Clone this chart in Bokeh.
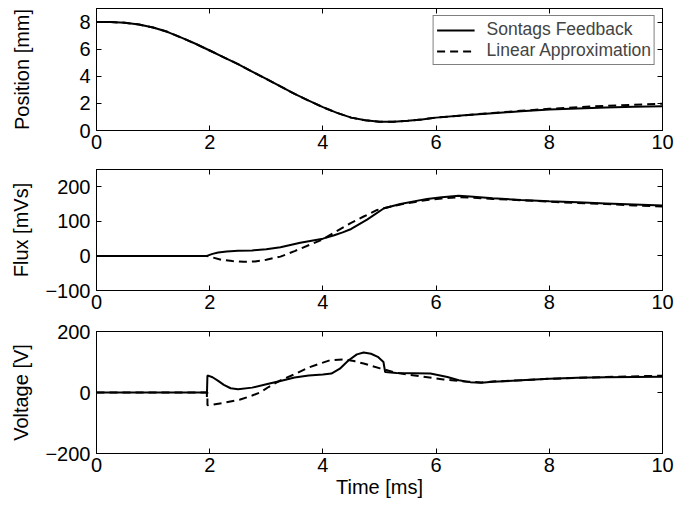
from bokeh.plotting import figure
from bokeh.layouts import column
from bokeh.models import LinearAxis, FixedTicker, Range1d, Legend, LegendItem
from bokeh.embed import file_html
from bokeh.resources import INLINE

# ---------------- data ----------------
pos_sontag_t = [0, 0.25, 0.5, 0.75, 1.0, 1.25, 1.5, 1.75, 2.0, 2.25, 2.5, 2.75, 3.0, 3.25,
                3.5, 3.75, 4.0, 4.25, 4.5, 4.75, 5.0, 5.25, 5.5, 5.75, 6.0, 6.5, 7.0, 7.5,
                8.0, 8.5, 9.0, 9.5, 10.0]
pos_sontag_y = [8.0, 8.0, 7.95, 7.82, 7.6, 7.28, 6.85, 6.4, 5.9, 5.4, 4.9, 4.35, 3.8, 3.25,
                2.7, 2.2, 1.72, 1.3, 0.95, 0.75, 0.65, 0.65, 0.72, 0.82, 0.95, 1.12, 1.27, 1.42,
                1.55, 1.63, 1.7, 1.75, 1.78]
pos_linear_t = pos_sontag_t
pos_linear_y = [8.0, 8.0, 7.95, 7.82, 7.6, 7.28, 6.85, 6.4, 5.9, 5.4, 4.9, 4.35, 3.8, 3.25,
                2.7, 2.2, 1.72, 1.3, 0.95, 0.75, 0.65, 0.65, 0.72, 0.82, 0.95, 1.12, 1.3, 1.45,
                1.6, 1.72, 1.82, 1.9, 1.98]

flux_sontag_t = [0, 1.95, 2.05, 2.15, 2.3, 2.5, 2.75, 3.0, 3.25, 3.6, 4.0, 4.2, 4.35, 4.5, 4.78,
                 5.08, 5.37, 5.84, 6.1, 6.4, 6.6, 7.0, 7.5, 8.0, 8.5, 9.0, 9.5, 10.0]
flux_sontag_y = [0, 0, 6, 10, 13, 15, 16, 19, 25, 38, 50, 60, 68, 78, 105,
                 138, 150, 165, 170, 174, 172, 167, 162, 158, 155, 152, 149, 146]
flux_linear_t = [0, 1.95, 2.0, 2.2, 2.4, 2.6, 2.8, 3.0, 3.25, 3.5, 3.78, 4.0, 4.19, 4.49,
                 4.72, 4.96, 5.08, 5.37, 5.84, 6.1, 6.4, 6.6, 7.0, 7.5, 8.0, 8.5, 9.0, 9.5, 10.0]
flux_linear_y = [0, 0, -2, -11, -15, -17, -16, -11, -2, 14, 33, 48, 67, 95,
                 114, 133, 138, 149, 162, 166, 170, 169, 165, 161, 157, 153, 150, 146, 143]

volt_sontag_t = [0, 1.95, 1.95, 1.96, 2.05, 2.15, 2.25, 2.37, 2.5, 2.75, 3.0, 3.25, 3.5, 3.75,
                 4.0, 4.15, 4.3, 4.45, 4.6, 4.72, 4.85, 4.97, 5.07, 5.1, 5.3, 5.6, 5.9, 6.2,
                 6.4, 6.6, 6.8, 7.0, 7.5, 8.0, 8.5, 9.0, 9.5, 10.0]
volt_sontag_y = [0, 0, -15, 56, 50, 38, 25, 14, 11, 16, 27, 38, 49, 56,
                 59, 62, 78, 105, 125, 131, 127, 117, 100, 67, 64, 63, 62, 51,
                 40, 34, 32, 35, 40, 45, 48, 50, 51, 52]
volt_linear_t = [0, 1.96, 1.96, 2.25, 2.54, 2.75, 2.9, 3.04, 3.25, 3.5, 3.75, 4.0, 4.13, 4.37,
                 4.55, 4.72, 5.01, 5.31, 5.72, 6.13, 6.5, 6.8, 7.0, 7.5, 8.0, 9.0, 10.0]
volt_linear_y = [0, 0, -42, -34, -23, -10, 1, 18, 40, 60, 82, 98, 106, 108,
                 103, 95, 79, 64, 53, 43, 36, 33, 36, 40, 45, 51, 55]

x_ticks = [0, 2, 4, 6, 8, 10]
pos_ticks = [0, 2, 4, 6, 8]
flux_ticks = [-100, 0, 100, 200]
volt_ticks = [-200, 0, 200]

series_names = ["Sontags Feedback", "Linear Approximation"]

FONT = "Liberation Sans"
TICK_FS = "20px"
LABEL_FS = "20px"
DASH = "8 5"


def style_axis(ax, ticks, show_labels=True):
    ax.ticker = FixedTicker(ticks=ticks)
    ax.major_tick_in = 5
    ax.major_tick_out = 0
    ax.minor_tick_line_color = None
    ax.axis_line_color = "black"
    ax.major_tick_line_color = "black"
    ax.major_label_text_font = FONT
    ax.major_label_text_color = "black"
    ax.axis_label_text_font = FONT
    ax.axis_label_text_font_style = "normal"
    ax.axis_label_text_font_size = LABEL_FS
    ax.axis_label_text_color = "black"
    if show_labels:
        ax.major_label_text_font_size = TICK_FS
        ax.major_label_standoff = 4
    else:
        ax.major_label_text_font_size = "0px"
        ax.major_label_standoff = 0


def make_fig(height, border_top, border_bottom, yrange, yticks, ylabel, ylabel_standoff, xlabel=None):
    p = figure(width=688, height=height, output_backend="svg", toolbar_location=None,
               x_range=Range1d(0, 10), y_range=Range1d(*yrange),
               x_axis_type=None, y_axis_type=None,
               min_border_left=96, min_border_right=26,
               min_border_top=border_top, min_border_bottom=border_bottom)
    p.grid.visible = False
    p.outline_line_color = "black"
    p.outline_line_width = 1
    p.background_fill_color = "white"
    p.border_fill_color = "white"

    xb = LinearAxis()
    style_axis(xb, x_ticks)
    if xlabel:
        xb.axis_label = xlabel
        xb.axis_label_standoff = 1
    p.add_layout(xb, "below")
    xt = LinearAxis()
    style_axis(xt, x_ticks, show_labels=False)
    p.add_layout(xt, "above")

    yl = LinearAxis()
    style_axis(yl, yticks)
    yl.major_label_standoff = 6
    yl.axis_label = ylabel
    yl.axis_label_standoff = ylabel_standoff
    p.add_layout(yl, "left")
    yr = LinearAxis()
    style_axis(yr, yticks, show_labels=False)
    p.add_layout(yr, "right")
    return p


p1 = make_fig(161, 8, 31, (0, 9), pos_ticks, "Position [mm]", 43)
p2 = make_fig(157, 8, 28, (-100, 250), flux_ticks, "Flux [mVs]", 10)
p3 = make_fig(187, 13, 52, (-200, 200), volt_ticks, "Voltage [V]", 10, xlabel="Time [ms]")

r_s = p1.line(pos_sontag_t, pos_sontag_y, line_color="black", line_width=2)
r_l = p1.line(pos_linear_t, pos_linear_y, line_color="black", line_width=2, line_dash=DASH)
p2.line(flux_sontag_t, flux_sontag_y, line_color="black", line_width=2)
p2.line(flux_linear_t, flux_linear_y, line_color="black", line_width=2, line_dash=DASH)
p3.line(volt_sontag_t, volt_sontag_y, line_color="black", line_width=2)
p3.line(volt_linear_t, volt_linear_y, line_color="black", line_width=2, line_dash=DASH)

legend = Legend(items=[LegendItem(label=series_names[0], renderers=[r_s]),
                       LegendItem(label=series_names[1], renderers=[r_l])],
                location="top_right", margin=7, padding=3, spacing=0,
                glyph_width=38, glyph_height=16, label_height=16, label_standoff=12,
                label_text_font=FONT, label_text_font_size="17.5px",
                border_line_color="black", border_line_width=1,
                background_fill_color="white", background_fill_alpha=1.0)
p1.add_layout(legend, "center")

layout = column(p1, p2, p3, spacing=0)

with open("out.html", "w") as f:
    f.write(file_html(layout, INLINE))
